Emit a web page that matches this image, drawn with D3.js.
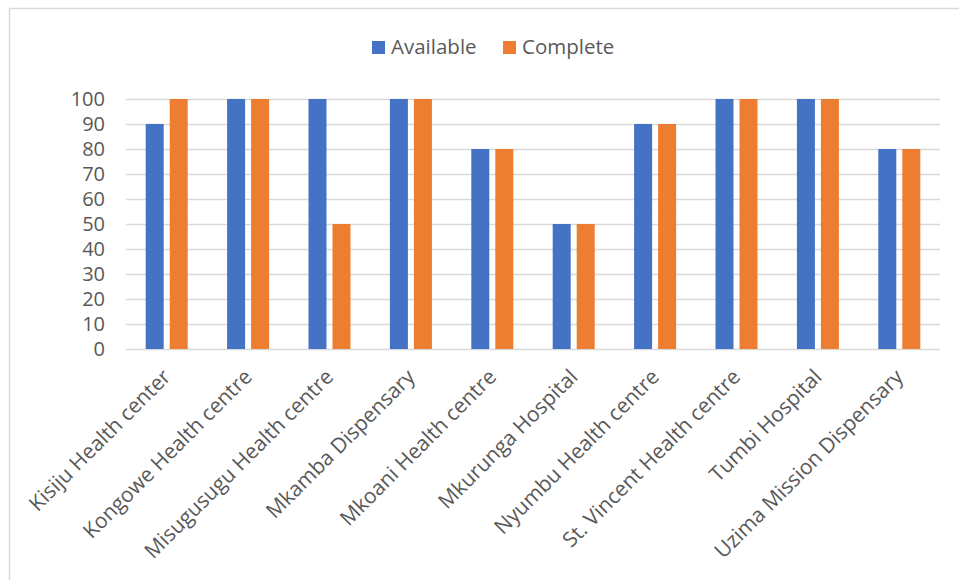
<!DOCTYPE html>
<html>
<head>
<meta charset="utf-8">
<script src="https://cdn.jsdelivr.net/npm/d3@7"></script>
<style>
  body { margin: 0; background: #fff; }
  svg text { font-family: "Open Sans", Lato, sans-serif; fill: #595959; }
</style>
</head>
<body>
<svg id="chart" width="959" height="580"></svg>
<script>
const categories = [
  "Kisiju Health center", "Kongowe Health centre", "Misugusugu Health centre",
  "Mkamba Dispensary", "Mkoani Health centre", "Mkurunga Hospital",
  "Nyumbu Health centre", "St. Vincent Health centre", "Tumbi Hospital",
  "Uzima Mission Dispensary"
];
const seriesNames = ["Available", "Complete"];
const available = [90, 100, 100, 100, 80, 50, 90, 100, 100, 80];
const complete = [100, 100, 50, 100, 80, 50, 90, 100, 100, 80];
const yTicks = [0, 10, 20, 30, 40, 50, 60, 70, 80, 90, 100];
const colors = ["#4472C4", "#ED7D31"];

const width = 959;
const height = 580;
const plot = { left: 126, right: 940, top: 99, bottom: 349 };

const svg = d3.select("#chart");

// chart frame
svg.append("rect")
  .attr("x", 9.5).attr("y", 8.5)
  .attr("width", width + 20).attr("height", height + 20)
  .attr("fill", "none")
  .attr("stroke", "#D9D9D9")
  .attr("stroke-width", 1.5);

const x = d3.scaleBand()
  .domain(categories)
  .range([plot.left, plot.right])
  .padding(0);

const xSub = d3.scaleBand()
  .domain(seriesNames)
  .range([-21, 21])
  .paddingInner(0.25);

const y = d3.scaleLinear()
  .domain([0, 100])
  .range([plot.bottom, plot.top]);

//------ gridlines + y labels ------//
const yAxis = d3.axisLeft(y)
  .tickValues(yTicks)
  .tickSize(-(plot.right - plot.left))
  .tickPadding(21);

const gy = svg.append("g")
  .attr("transform", `translate(${plot.left},0)`)
  .call(yAxis);
gy.select(".domain").remove();
gy.selectAll(".tick line")
  .attr("stroke", "#D9D9D9")
  .attr("stroke-width", 1.5);
gy.selectAll(".tick text")
  .attr("font-size", 20)
  .attr("font-family", "Lato, sans-serif")
  .attr("fill", "#595959");

//------ bars ------//
const rows = categories.map((c, i) => ({
  cat: c,
  values: [
    { key: "Available", value: available[i] },
    { key: "Complete", value: complete[i] }
  ]
}));

const groups = svg.append("g")
  .selectAll("g")
  .data(rows)
  .join("g")
  .attr("transform", d => `translate(${x(d.cat) + x.bandwidth() / 2},0)`);

groups.selectAll("rect")
  .data(d => d.values)
  .join("rect")
  .attr("x", d => xSub(d.key))
  .attr("width", xSub.bandwidth())
  .attr("y", d => y(d.value))
  .attr("height", d => y(0) - y(d.value))
  .attr("fill", (d, i) => colors[i]);

//------ x labels ------//
const xAxis = d3.axisBottom(x).tickSize(0).tickPadding(0);
const gx = svg.append("g")
  .attr("transform", `translate(0,${plot.bottom})`)
  .call(xAxis);
gx.select(".domain").remove();
gx.selectAll(".tick text")
  .attr("font-size", 21)
  .attr("fill", "#595959")
  .attr("text-anchor", "end")
  .attr("dy", "0.35em")
  .attr("transform", "translate(0,24) rotate(-45)")
  .attr("y", 0)
  .attr("x", 0);

//------ legend ------//
const legend = svg.append("g");
const legendX = [372, 503];
seriesNames.forEach((name, i) => {
  legend.append("rect")
    .attr("x", legendX[i]).attr("y", 41)
    .attr("width", 13).attr("height", 13)
    .attr("fill", colors[i]);
  legend.append("text")
    .attr("x", legendX[i] + 19).attr("y", 54)
    .attr("font-size", 20.5)
    .text(name);
});
</script>
</body>
</html>
